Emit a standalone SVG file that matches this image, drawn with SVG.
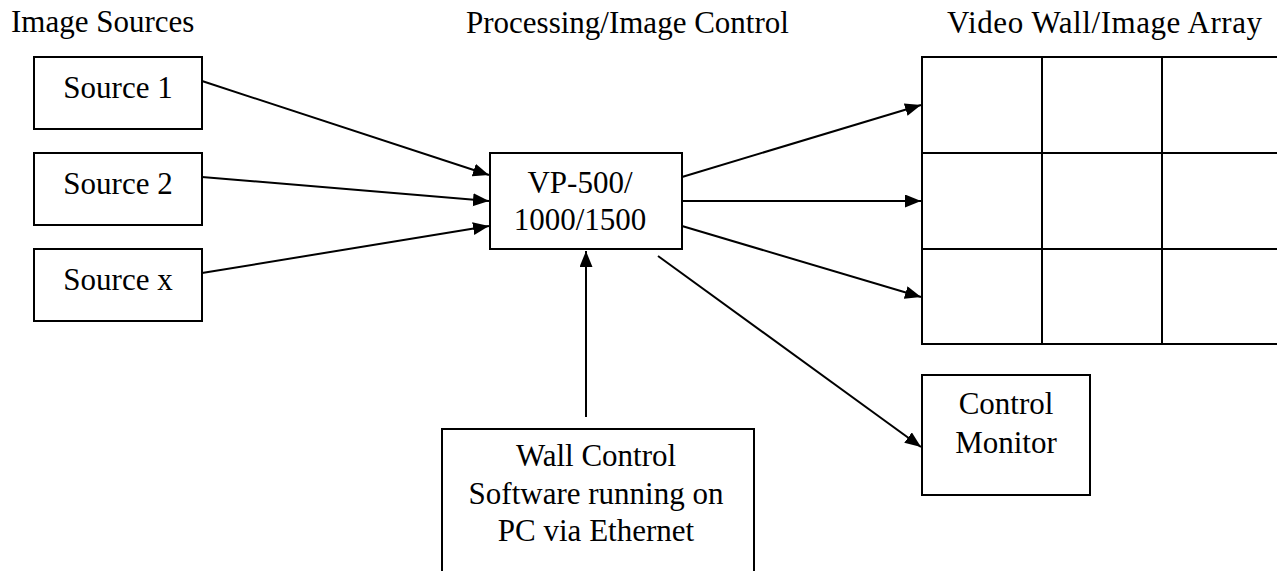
<svg xmlns="http://www.w3.org/2000/svg" width="1277" height="571" viewBox="0 0 1277 571">
<defs>
<style>
.box{fill:#fff;stroke:#000;stroke-width:2}
.t{font-family:"Liberation Serif","Times New Roman",serif;font-size:31px;fill:#000}
.c{text-anchor:middle}
.ln{stroke:#000;stroke-width:2;fill:none;marker-end:url(#ah)}
.grid{stroke:#000;stroke-width:2;fill:none}
</style>
<marker id="ah" markerUnits="userSpaceOnUse" markerWidth="17" markerHeight="14" refX="16" refY="6.5" orient="auto">
<path d="M0,0 L16,6.5 L0,13 z" fill="#000"/>
</marker>
</defs>
<rect width="1277" height="571" fill="#fff"/>
<g id="headers">
<text class="t" x="11" y="32">Image Sources</text>
<text class="t" x="466" y="33">Processing/Image Control</text>
<text class="t" x="947" y="33" textLength="315">Video Wall/Image Array</text>
</g>
<g id="source1"><rect class="box" x="34" y="57" width="168" height="72"/><text class="t c" x="118" y="98">Source 1</text></g>
<g id="source2"><rect class="box" x="34" y="153" width="168" height="72"/><text class="t c" x="118" y="194">Source 2</text></g>
<g id="sourcex"><rect class="box" x="34" y="249" width="168" height="72"/><text class="t c" x="118" y="290">Source x</text></g>
<g id="vp"><rect class="box" x="490" y="153" width="192" height="96"/><text class="t c" x="580" y="193">VP-500/</text><text class="t c" x="580" y="230">1000/1500</text></g>
<g id="videowall">
<rect class="grid" x="922" y="57" width="360" height="287"/>
<line class="grid" x1="1042" y1="57" x2="1042" y2="344"/>
<line class="grid" x1="1162" y1="57" x2="1162" y2="344"/>
<line class="grid" x1="922" y1="153" x2="1282" y2="153"/>
<line class="grid" x1="922" y1="249" x2="1282" y2="249"/>
</g>
<g id="monitor"><rect class="box" x="922" y="375" width="168" height="120"/><text class="t c" x="1006" y="414">Control</text><text class="t c" x="1006" y="453">Monitor</text></g>
<g id="wallcontrol"><rect class="box" x="442" y="429" width="312" height="160"/><text class="t c" x="596" y="466">Wall Control</text><text class="t c" x="596" y="504">Software running on</text><text class="t c" x="596" y="541">PC via Ethernet</text></g>
<g id="connectors">
<line class="ln" x1="202" y1="81" x2="489" y2="175"/>
<line class="ln" x1="202" y1="177" x2="489" y2="201"/>
<line class="ln" x1="202" y1="273" x2="489" y2="226"/>
<line class="ln" x1="682" y1="177" x2="921" y2="105"/>
<line class="ln" x1="682" y1="201" x2="921" y2="201"/>
<line class="ln" x1="682" y1="226" x2="921" y2="297"/>
<line class="ln" x1="586" y1="417" x2="586" y2="251"/>
<line class="ln" x1="658" y1="256" x2="921" y2="447"/>
</g>
</svg>
